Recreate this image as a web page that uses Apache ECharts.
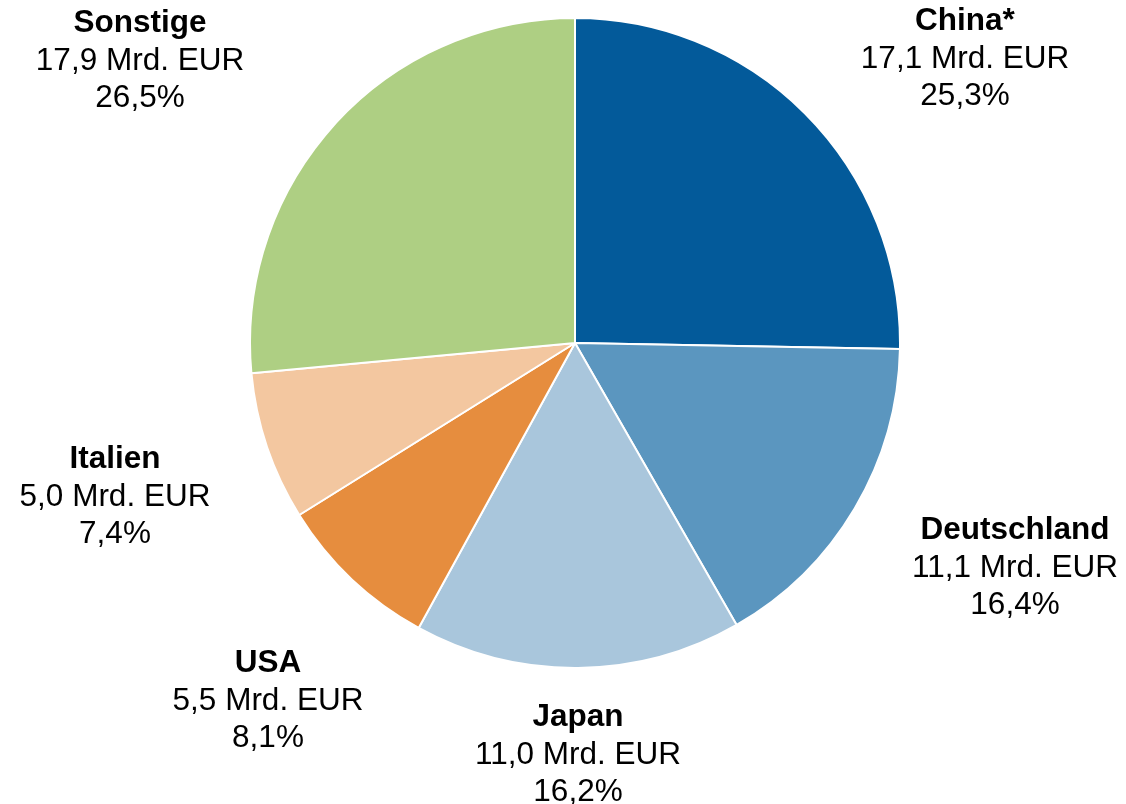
<!DOCTYPE html>
<html>
<head>
<meta charset="utf-8">
<script src="https://cdn.jsdelivr.net/npm/echarts@6/dist/echarts.min.js"></script>
<style>
  html, body { margin: 0; padding: 0; background: #fff; }
  #chart { width: 1126px; height: 804px; }
</style>
</head>
<body>
<div id="chart"></div>
<script>
// Daten
const countries = ['China*', 'Deutschland', 'Japan', 'USA', 'Italien', 'Sonstige']
const values = [17.1, 11.1, 11.0, 5.5, 5.0, 17.9]
const shares = [25.3, 16.4, 16.2, 8.1, 7.4, 26.5]

const colors = ['#035a9a', '#5b96bf', '#a9c6dc', '#e68d3e', '#f3c7a0', '#aecf83']
// label centre positions (px)
const labelPos = [[965, 59], [1015, 568], [578, 755], [268, 701], [115, 497], [140, 61]]

const fmt = v => v.toFixed(1).replace('.', ',')

const chart = echarts.init(document.getElementById('chart'))
chart.setOption({
  animation: false,
  series: [{
    type: 'pie',
    center: [575, 343],
    radius: 325,
    startAngle: 90,
    clockwise: true,
    itemStyle: { borderColor: '#fff', borderWidth: 2 },
    labelLine: { show: false },
    label: {
      show: true,
      position: 'outside',
      align: 'center',
      verticalAlign: 'middle',
      fontFamily: 'Liberation Sans, Arial, sans-serif',
      fontSize: 31.5,
      lineHeight: 37.5,
      color: '#000',
      formatter: p => '{b|' + p.name + '}\n' + fmt(values[p.dataIndex]) + ' Mrd. EUR\n' + fmt(shares[p.dataIndex]) + '%',
      rich: {
        b: { fontWeight: 'bold', fontSize: 31.5, lineHeight: 37.5, fontFamily: 'Liberation Sans, Arial, sans-serif' }
      }
    },
    labelLayout: p => ({
      x: labelPos[p.dataIndex][0],
      y: labelPos[p.dataIndex][1],
      align: 'center',
      verticalAlign: 'middle'
    }),
    data: countries.map((c, i) => ({
      name: c,
      value: values[i],
      itemStyle: { color: colors[i] }
    }))
  }]
})
</script>
</body>
</html>
